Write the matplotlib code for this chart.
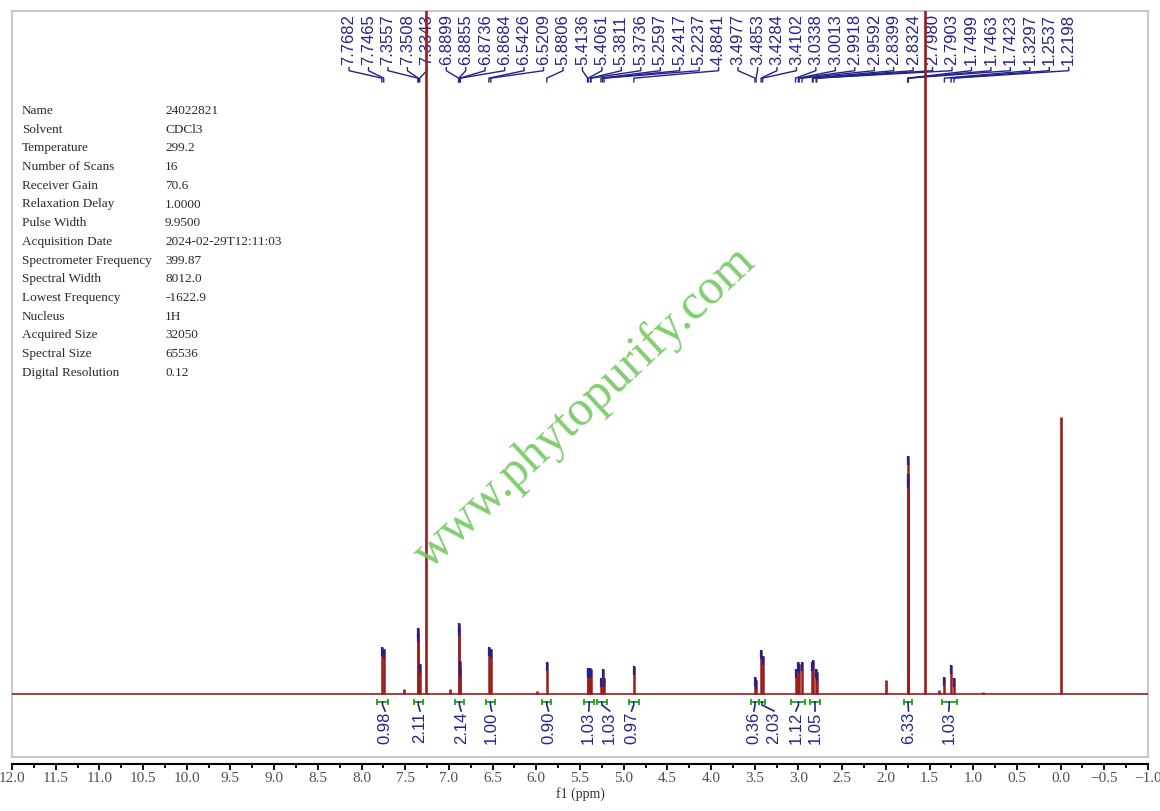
import matplotlib
matplotlib.use("Agg")
import matplotlib.pyplot as plt
import matplotlib.transforms as mtransforms
from matplotlib.ticker import MultipleLocator, FuncFormatter
import numpy as np

# picked peaks (ppm) and their heights
pick_ppm = [7.7682, 7.7465, 7.3557, 7.3508, 7.3343, 6.8899, 6.8855, 6.8736, 6.8684,
            6.5426, 6.5209, 5.8806, 5.4136, 5.4061, 5.3811, 5.3736, 5.2597, 5.2417,
            5.2237, 4.8841, 3.4977, 3.4853, 3.4284, 3.4102, 3.0338, 3.0013, 2.9918,
            2.9592, 2.8399, 2.8324, 2.7980, 2.7903, 1.7499, 1.7463, 1.7423, 1.3297,
            1.2537, 1.2198]
pick_height = [47, 45, 66, 61, 30, 71, 67, 33, 26, 47, 45, 32, 25, 26, 26, 25, 16, 25,
               16, 28, 17, 14, 44, 38, 25, 32, 30, 32, 32, 34, 25, 22, 220, 238, 215,
               17, 29, 16]

# peaks that were not labelled (solvent, water, TMS, impurities)
other_ppm = [7.26, 7.51, 6.99, 5.99, 2.00, 1.55, 1.39, 0.89, 0.00]
other_height = [1200, 5, 5, 3, 14, 1200, 4, 2, 277]

# integrals: start, end, value, label position (ppm)
int_start = [7.82, 7.40, 6.93, 6.58, 5.93, 5.45, 5.31, 4.94, 3.54, 3.455, 3.08, 2.87, 1.79, 1.36]
int_end = [7.70, 7.30, 6.83, 6.47, 5.83, 5.34, 5.19, 4.83, 3.455, 3.38, 2.92, 2.75, 1.70, 1.19]
int_value = ["0.98", "2.11", "2.14", "1.00", "0.90", "1.03", "1.03", "0.97",
             "0.36", "2.03", "1.12", "1.05", "6.33", "1.03"]
int_label_ppm = [7.73, 7.33, 6.86, 6.51, 5.86, 5.40, 5.16, 4.91, 3.51, 3.28, 3.03, 2.81, 1.74, 1.28]

param_names = ["Name", "Solvent", "Temperature", "Number of Scans", "Receiver Gain",
               "Relaxation Delay", "Pulse Width", "Acquisition Date",
               "Spectrometer Frequency", "Spectral Width", "Lowest Frequency",
               "Nucleus", "Acquired Size", "Spectral Size", "Digital Resolution"]
param_values = ["24022821", "CDCl3", "299.2", "16", "70.6", "1.0000", "9.9500",
                "2024-02-29T12:11:03", "399.87", "8012.0", "-1622.9", "1H",
                "32050", "65536", "0.12"]

red = "#9a1c1c"
navy = "#23238a"
green = "#1fa51f"

W, H = 1160, 811
fig = plt.figure(figsize=(W / 100, H / 100), dpi=100)
ax = fig.add_axes([12 / W, (H - 757) / H, 1136 / W, 746 / H])
ax.set_xlim(12.0, -1.0)
ax.set_ylim(-63, 683)
ax.set_xticks([])
ax.set_yticks([])
for sp in ax.spines.values():
    sp.set_color("#c8c8c8")
    sp.set_linewidth(1.5)

# spectrum
ax.plot([12.0, -1.0], [0, 0], color=red, lw=1.2, zorder=3)
ax.vlines(other_ppm, 0, other_height, color=red, lw=1.9, zorder=3)
ax.vlines(pick_ppm, 0, pick_height, color=red, lw=1.8, zorder=3)
ax.vlines(pick_ppm, np.array(pick_height) - 9, pick_height, color=navy, lw=1.6, zorder=4)

# peak labels on top
bl = mtransforms.blended_transform_factory(ax.transData, ax.transAxes)
lab_x = np.linspace(8.143, -0.093, len(pick_ppm))
for xl, xp in zip(lab_x, pick_ppm):
    ax.text(xl, 0.927, f"{xp:.4f}", rotation=90, ha="center", va="bottom",
            fontsize=12, color=navy, family="Liberation Sans", transform=bl, zorder=2)
    ax.plot([xl, xl, xp, xp], [0.924, 0.920, 0.910, 0.905], color=navy, lw=1,
            transform=bl, zorder=2)

# integrals
for s, e, v, lx in zip(int_start, int_end, int_value, int_label_ppm):
    c = (s + e) / 2
    ax.plot([s, e], [-8, -8], color=green, lw=1.3, zorder=3)
    ax.vlines([s, e], -11, -5, color=green, lw=1.3, zorder=3)
    ax.plot([c, c, lx], [-8, -11, -17], color=navy, lw=1.2, zorder=3)
    ax.text(lx, -18, v, rotation=90, ha="center", va="top", fontsize=12,
            color=navy, family="Liberation Sans")

# parameter table
for i, (n, v) in enumerate(zip(param_names, param_values)):
    y = 1 - (111 + i * 18.7) / H
    fig.text(22 / W, y, n, ha="left", va="center", fontsize=9.5,
             family="Liberation Serif", color="#2a2a2a")
    fig.text(165 / W, y, v, ha="left", va="center", fontsize=9.5,
             family="Liberation Serif", color="#2a2a2a")

# watermark
fig.text(585 / W, 1 - 408 / H, "www.phytopurify.com", rotation=43, ha="center",
         va="center", fontsize=36, family="Liberation Serif", color="#74c862",
         alpha=0.9, zorder=10)

# ppm axis below the frame
ax2 = fig.add_axes([12 / W, (H - 764) / H, 1136 / W, 0.0001])
ax2.set_xlim(12.0, -1.0)
ax2.set_yticks([])
ax2.patch.set_visible(False)
for k in ["top", "left", "right"]:
    ax2.spines[k].set_visible(False)
ax2.spines["bottom"].set_linewidth(1.5)
ax2.xaxis.set_major_locator(MultipleLocator(0.5))
ax2.xaxis.set_minor_locator(MultipleLocator(0.25))
ax2.xaxis.set_major_formatter(FuncFormatter(lambda v, p: f"{v:.1f}".replace("-", "\u2212")))
ax2.tick_params(axis="x", which="major", direction="out", length=4.5, width=1.3,
                pad=1.5, labelsize=11, labelcolor="#505050")
ax2.tick_params(axis="x", which="minor", direction="out", length=3, width=1.3)
for t in ax2.get_xticklabels():
    t.set_family("Liberation Serif")
fig.text(580 / W, 1 - 794 / H, "f1 (ppm)", ha="center", va="center", fontsize=10,
         family="Liberation Serif", color="#333333")

fig.savefig("out.png", dpi=100)
